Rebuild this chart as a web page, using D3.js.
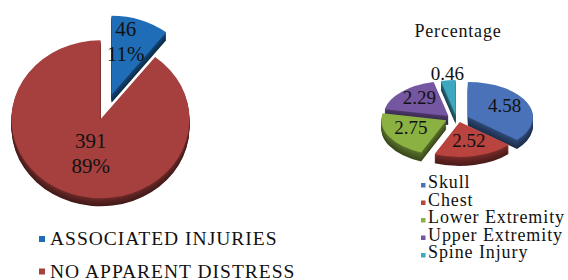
<!DOCTYPE html>
<html>
<head>
	<script src="https://d3js.org/d3.v7.min.js"></script>
	<style type="text/css">
		body { margin: 0; background: #fff; }
	</style>
</head>
<body>
	<script type="text/javascript">
		var dim = { w: 568, h: 280 };
		var serif = "'Liberation Serif'";

		// left pie
		var groups = ['ASSOCIATED INJURIES', 'NO APPARENT DISTRESS'];
		var groupCounts = [46, 391];
		var groupPct = ['11%', '89%'];
		var groupColors = ['#1f6db6', '#a5403e'];

		// right pie
		var injuries = ['Skull', 'Chest', 'Lower Extremity', 'Upper Extremity', 'Spine Injury'];
		var injuryPct = [4.58, 2.52, 2.75, 2.29, 0.46];
		var injuryColors = ['#4a72b8', '#b8433f', '#8cb143', '#7556a0', '#3fa6c0'];

		var svg = d3.select('body')
			.append('svg')
				.attr('width', dim.w)
				.attr('height', dim.h);

		function label(x, y, size, str, spacing) {
			return svg.append('text')
				.attr('x', x).attr('y', y)
				.attr('style', 'font-family:' + serif + ';font-size:' + size + 'px;fill:#111;letter-spacing:' + (spacing || 0) + 'px')
				.text(str);
		}

		/** tilted pie with a side wall **/
		function tiltedPie(opt) {
			var k = opt.ry / opt.rx;
			var pie = d3.pie().sort(null).value(function(d) { return d.v; });
			var arc = d3.arc().innerRadius(0).outerRadius(opt.rx);
			var slices = pie(opt.data);

			slices.forEach(function(s) {
				var m = (s.startAngle + s.endAngle) / 2;
				s.ox = opt.cx + Math.sin(m) * opt.ex;
				s.oy = opt.cy - Math.cos(m) * opt.ey;
				s.mid = m;
			});

			var g = svg.append('g');

			// side wall, stacked layers
			for (var i = opt.depth; i >= 1; i--) {
				g.selectAll(null)
					.data(slices).enter()
				.append('path')
					.attr('d', arc)
					.attr('transform', function(d) {
						return 'translate(' + d.ox + ',' + (d.oy + i) + ') scale(1,' + k + ')';
					})
					.style('fill', function(d) {
						return d3.color(d.data.c).darker(1.1 + 1.4 * i / opt.depth).formatHex();
					});
			}

			// top face
			g.selectAll(null)
				.data(slices).enter()
			.append('path')
				.attr('d', arc)
				.attr('transform', function(d) {
					return 'translate(' + d.ox + ',' + d.oy + ') scale(1,' + k + ')';
				})
				.style('fill', function(d) { return d.data.c; });

			return slices;
		}

		/** left pie **/
		var L = { cx: 106, cy: 107, rx: 89, ry: 79, ex: 17, ey: 13, depth: 8 };
		L.data = groupCounts.map(function(v, i) { return { v: v, c: groupColors[i] }; });
		var leftSlices = tiltedPie(L);

		var leftFrac = [[0.49, 0.71], [0.34, 0.46]];
		leftSlices.forEach(function(s, i) {
			var lx = s.ox + Math.sin(s.mid) * L.rx * leftFrac[i][0];
			var ly = s.oy - Math.cos(s.mid) * L.ry * leftFrac[i][1];
			label(lx, ly - 5.5, 21, groupCounts[i]).attr('text-anchor', 'middle');
			label(lx, ly + 19.5, 21, groupPct[i]).attr('text-anchor', 'middle');
		});

		groups.forEach(function(name, i) {
			var y = 245 + i * 32.5;
			svg.append('rect')
				.attr('x', 39).attr('y', y - 9)
				.attr('width', 6).attr('height', 6)
				.style('fill', groupColors[i]);
			label(50, y, 19.5, name, 1);
		});

		/** right pie **/
		label(458, 37, 18, 'Percentage', 0.8).attr('text-anchor', 'middle');

		var R = { cx: 457, cy: 118.5, rx: 65, ry: 35, ex: 12, ey: 3.5, depth: 9 };
		R.data = injuryPct.map(function(v, i) { return { v: v, c: injuryColors[i] }; });
		var rightSlices = tiltedPie(R);

		rightSlices.forEach(function(s, i) {
			var f = i === 4 ? 1.12 : 0.62;
			label(s.ox + Math.sin(s.mid) * R.rx * f,
				s.oy - Math.cos(s.mid) * R.ry * f + 3.5,
				19, injuryPct[i]).attr('text-anchor', 'middle');
		});

		injuries.forEach(function(name, i) {
			var y = 188 + i * 17.5;
			svg.append('rect')
				.attr('x', 421).attr('y', y - 5)
				.attr('width', 4.5).attr('height', 4.5)
				.style('fill', injuryColors[i]);
			label(428, y, 18, name, 0.9);
		});
	</script>
</body>
</html>
